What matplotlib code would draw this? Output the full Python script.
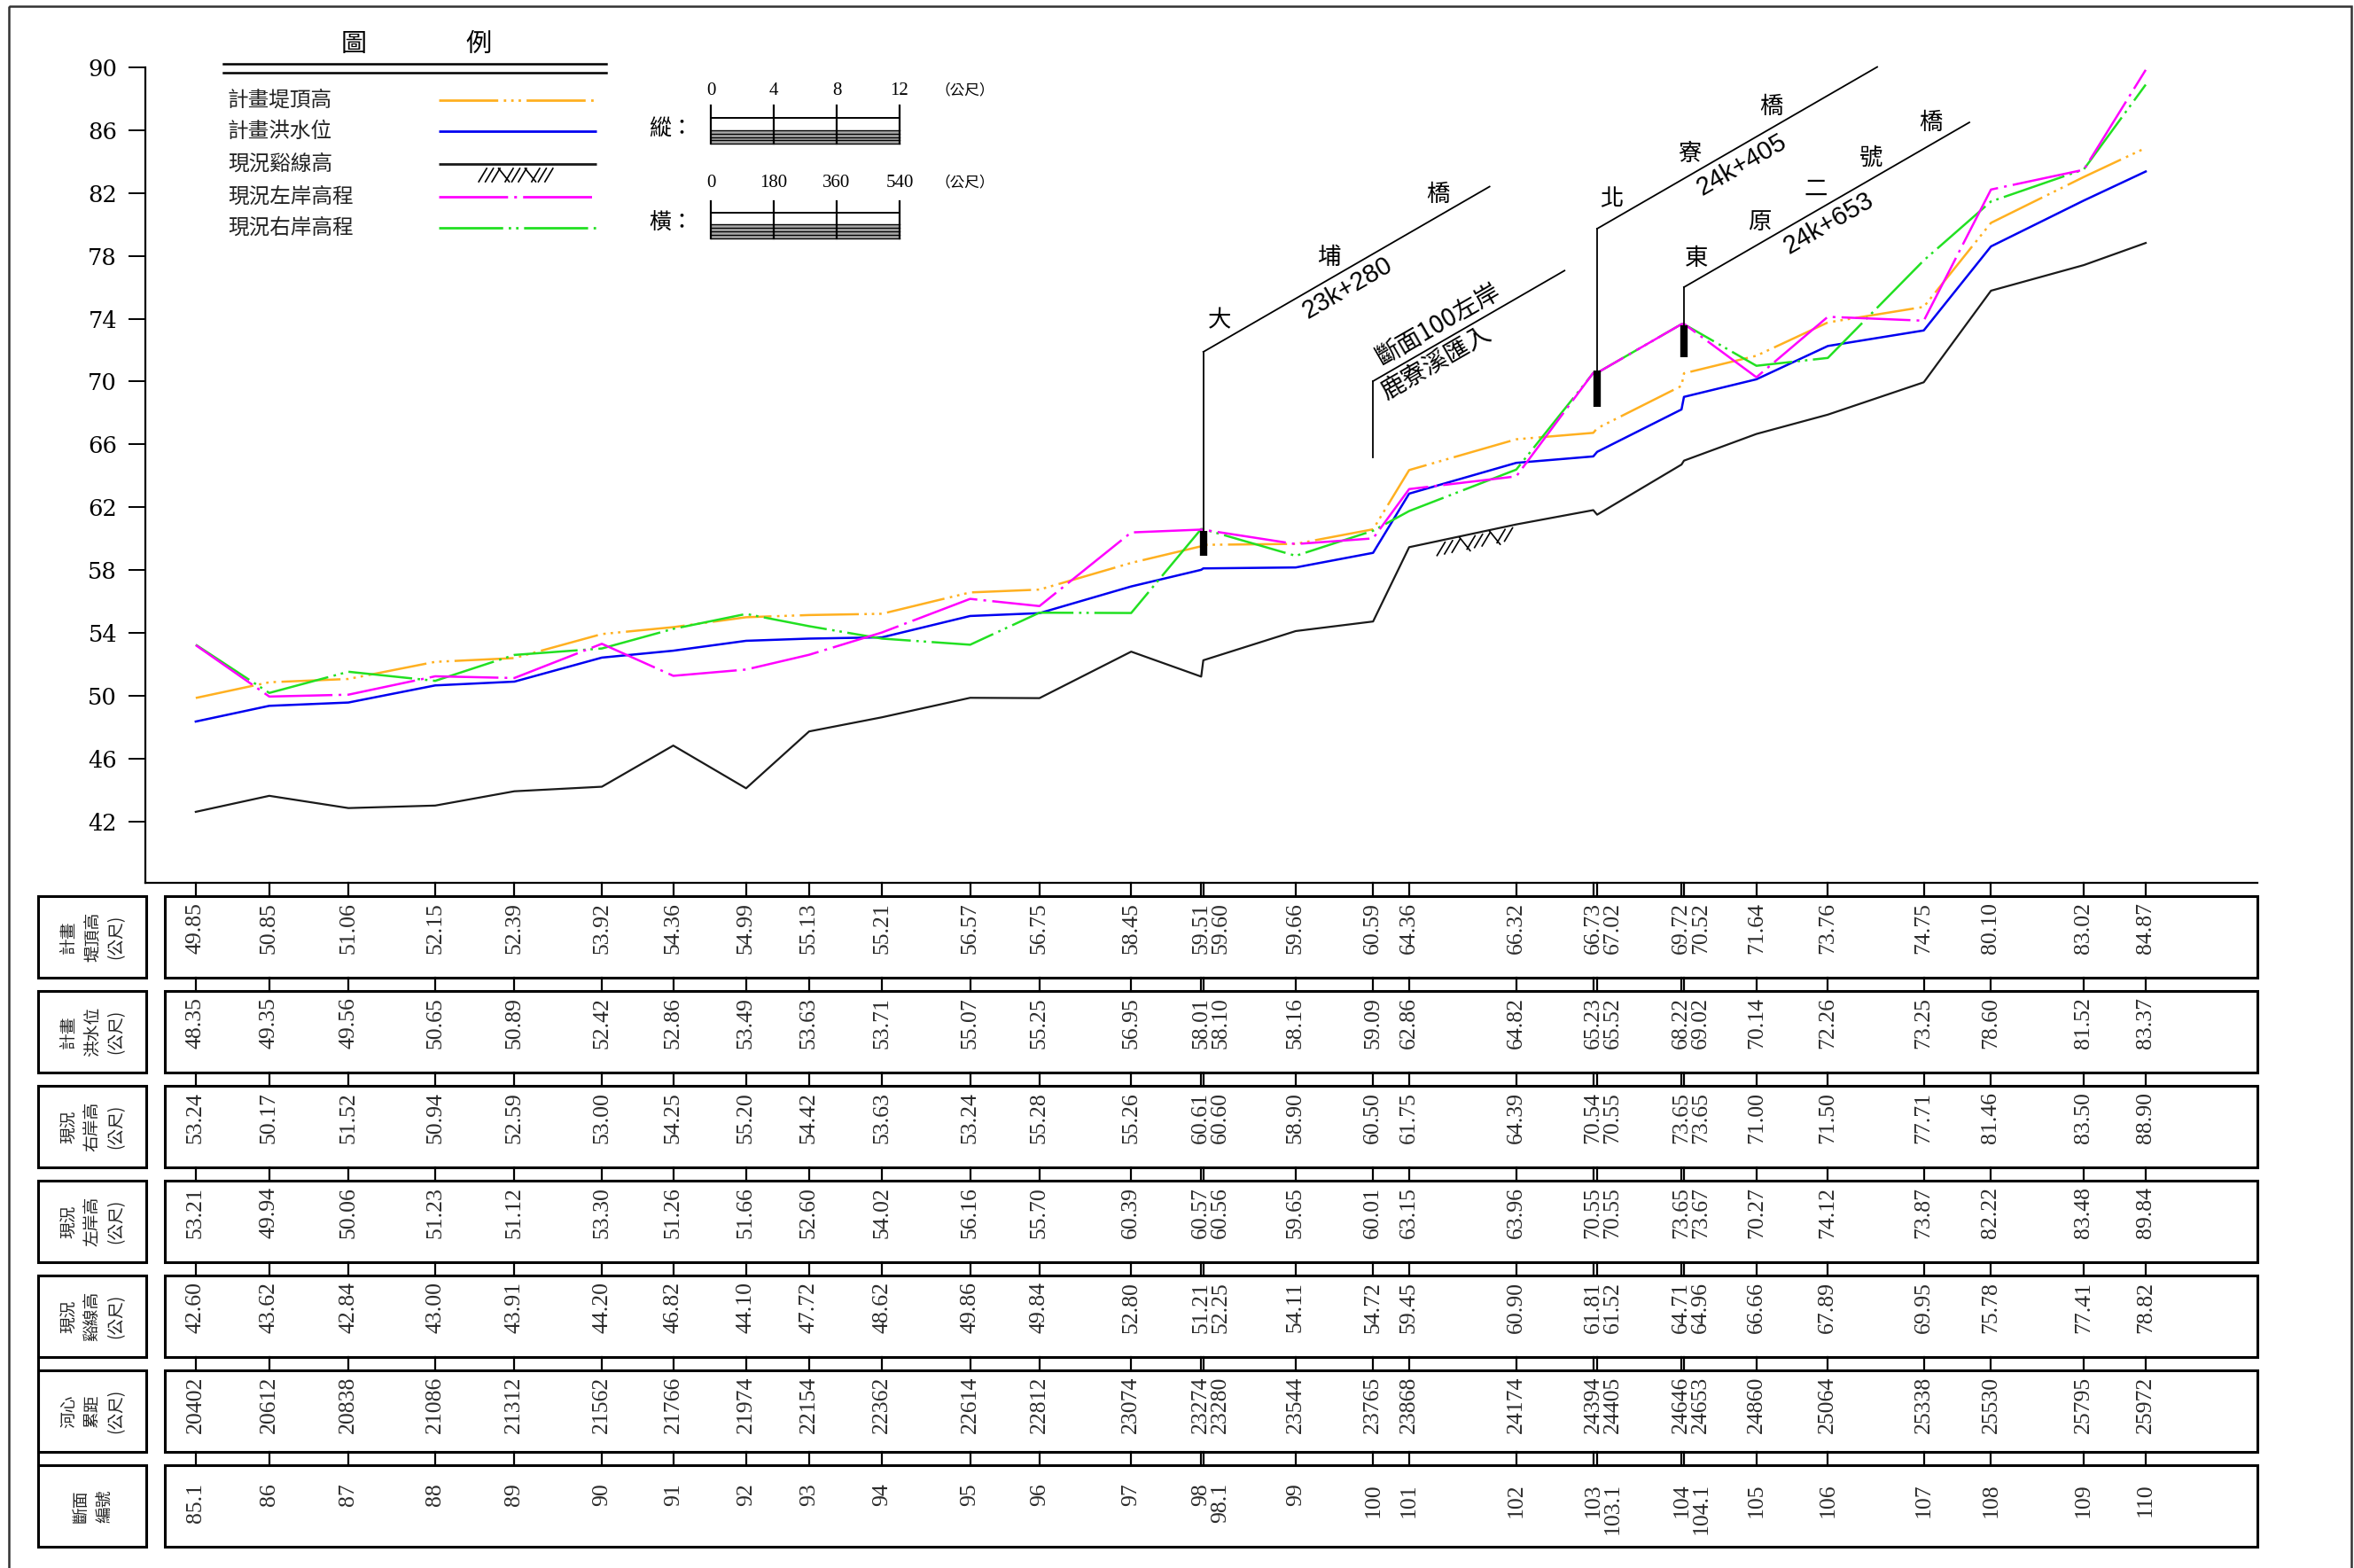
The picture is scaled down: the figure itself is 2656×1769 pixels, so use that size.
import matplotlib
matplotlib.use('Agg')
import matplotlib.pyplot as plt
from matplotlib.patches import Rectangle
from matplotlib.transforms import blended_transform_factory, offset_copy
import numpy as np

plt.rcParams['lines.scale_dashes'] = False
plt.rcParams['hatch.linewidth'] = 1.4

CJK = ['Noto Sans CJK TC', 'DejaVu Sans']
NUMF = 'Liberation Serif'

# ---------------- data ----------------
section_ids = ['85.1', '86', '87', '88', '89', '90', '91', '92', '93', '94', '95', '96', '97',
               '98', '98.1', '99', '100', '101', '102', '103', '103.1', '104', '104.1',
               '105', '106', '107', '108', '109', '110']
distance = [20402, 20612, 20838, 21086, 21312, 21562, 21766, 21974, 22154, 22362, 22614, 22812, 23074,
            23274, 23280, 23544, 23765, 23868, 24174, 24394, 24405, 24646, 24653,
            24860, 25064, 25338, 25530, 25795, 25972]
design_levee = [49.85, 50.85, 51.06, 52.15, 52.39, 53.92, 54.36, 54.99, 55.13, 55.21, 56.57, 56.75, 58.45,
                59.51, 59.60, 59.66, 60.59, 64.36, 66.32, 66.73, 67.02, 69.72, 70.52,
                71.64, 73.76, 74.75, 80.10, 83.02, 84.87]
design_flood = [48.35, 49.35, 49.56, 50.65, 50.89, 52.42, 52.86, 53.49, 53.63, 53.71, 55.07, 55.25, 56.95,
                58.01, 58.10, 58.16, 59.09, 62.86, 64.82, 65.23, 65.52, 68.22, 69.02,
                70.14, 72.26, 73.25, 78.60, 81.52, 83.37]
right_bank = [53.24, 50.17, 51.52, 50.94, 52.59, 53.00, 54.25, 55.20, 54.42, 53.63, 53.24, 55.28, 55.26,
              60.61, 60.60, 58.90, 60.50, 61.75, 64.39, 70.54, 70.55, 73.65, 73.65,
              71.00, 71.50, 77.71, 81.46, 83.50, 88.90]
left_bank = [53.21, 49.94, 50.06, 51.23, 51.12, 53.30, 51.26, 51.66, 52.60, 54.02, 56.16, 55.70, 60.39,
             60.57, 60.56, 59.65, 60.01, 63.15, 63.96, 70.55, 70.55, 73.65, 73.67,
             70.27, 74.12, 73.87, 82.22, 83.48, 89.84]
thalweg = [42.60, 43.62, 42.84, 43.00, 43.91, 44.20, 46.82, 44.10, 47.72, 48.62, 49.86, 49.84, 52.80,
           51.21, 52.25, 54.11, 54.72, 59.45, 60.90, 61.81, 61.52, 64.71, 64.96,
           66.66, 67.89, 69.95, 75.78, 77.41, 78.82]

series_names = ['計畫堤頂高', '計畫洪水位', '現況谿線高', '現況左岸高程', '現況右岸高程']
row_labels = ['計畫\n堤頂高\n(公尺)', '計畫\n洪水位\n(公尺)', '現況\n右岸高\n(公尺)',
              '現況\n左岸高\n(公尺)', '現況\n谿線高\n(公尺)', '河心\n累距\n(公尺)', '斷面\n編號']
y_ticks = list(range(42, 91, 4))
v_scale_labels = ['0', '4', '8', '12']
h_scale_labels = ['0', '180', '360', '540']

# ---------------- styles ----------------
C_LEVEE = '#FFB020'
C_FLOOD = '#0000F0'
C_BED = '#1a1a1a'
C_LEFT = '#FF00FF'
C_RIGHT = '#22E022'
LS_LEVEE = (0, (48, 4.5, 2, 4, 2, 4, 2, 4.5))
LS_LEFT = (0, (56, 5, 2.2, 5))
LS_RIGHT = (0, (52, 4.5, 2, 4, 2, 4.5))

W, H = 2656, 1769
fig = plt.figure(figsize=(W / 100, H / 100), dpi=100)

AX_L, AX_R, AX_T, AX_B = 164, 2547, 76, 996
ax = fig.add_axes([AX_L / W, 1 - AX_B / H, (AX_R - AX_L) / W, (AX_B - AX_T) / H])
ax.patch.set_visible(False)
ax.set_xlim(20258, 26291)
ax.set_ylim(38.08, 90)
for s in ['top', 'right']:
    ax.spines[s].set_visible(False)
for s in ['left', 'bottom']:
    ax.spines[s].set_linewidth(1.6)
ax.set_xticks([])
ax.set_yticks(y_ticks)
ax.tick_params(axis='y', length=14, width=1.4, pad=9, labelsize=18.5)
for lab in ax.get_yticklabels():
    lab.set_family('DejaVu Serif')

ax.plot(distance, thalweg, color=C_BED, lw=1.6, zorder=3)
ax.plot(distance, design_flood, color=C_FLOOD, lw=1.8, zorder=4)
ax.plot(distance, design_levee, color=C_LEVEE, lw=1.8, ls=LS_LEVEE, zorder=5)
ax.plot(distance, right_bank, color=C_RIGHT, lw=1.8, ls=LS_RIGHT, zorder=6)
ax.plot(distance, left_bank, color=C_LEFT, lw=1.8, ls=LS_LEFT, zorder=7)

# overlay in pixel coords (y from top)
ov = fig.add_axes([0, 0, 1, 1])
ov.set_xlim(0, W)
ov.set_ylim(H, 0)
ov.axis('off')
ov.patch.set_visible(False)


def to_px(d, v):
    x, y = ax.transData.transform((d, v))
    return x, H - y


# outer frame
ov.add_patch(Rectangle((10, 7), W - 13, H + 40, fill=False, lw=1.8, ec='#333333', clip_on=False))


def ground_hatch(x0, y0, x1, y1, n):
    for i, t in enumerate(np.linspace(0.05, 0.95, n)):
        xt = x0 + (x1 - x0) * t
        yt = y0 + (y1 - y0) * t + 3
        if i % 4 == 3:
            ov.plot([xt - 9, xt + 3], [yt, yt + 15], color='k', lw=1.2)
        else:
            ov.plot([xt, xt - 9], [yt, yt + 15], color='k', lw=1.2)


# ---------------- legend ----------------
ov.text(399, 50, '圖', fontsize=21, family=CJK, ha='center', va='center')
ov.text(540, 50, '例', fontsize=21, family=CJK, ha='center', va='center')
ov.plot([252, 684], [72, 72], color='k', lw=1.8)
ov.plot([252, 684], [82, 82], color='k', lw=1.8)
leg_y = [113, 148, 185, 222, 257]
leg_style = [(C_LEVEE, LS_LEVEE), (C_FLOOD, '-'), (C_BED, '-'), (C_LEFT, LS_LEFT), (C_RIGHT, LS_RIGHT)]
for name, y, (c, ls) in zip(series_names, leg_y, leg_style):
    ov.text(257, y, name, fontsize=17, family=CJK, ha='left', va='center', color='#222222')
    ov.plot([495, 673], [y, y], color=c, lw=2.0, ls=ls, solid_capstyle='butt', dash_capstyle='butt')
ground_hatch(545, 187, 628, 187, 11)

# ---------------- scale bars ----------------
sx = [802, 873, 944, 1015]


def scale_bar(labels, y_lab, y_top, y_line, y_band, y_bot, name):
    for x, l in zip(sx, labels):
        ov.text(x, y_lab, l, fontsize=15, family=NUMF, ha='center', va='center')
        ov.plot([x, x], [y_top, y_bot], color='k', lw=1.6)
    ov.text(1089, y_lab, '（公尺）', fontsize=12, family=CJK, ha='center', va='center')
    ov.text(757, (y_line + y_bot) / 2 - 3, name, fontsize=18, family=CJK, ha='center', va='center')
    ov.add_patch(Rectangle((sx[0], y_band), sx[-1] - sx[0], y_bot - y_band, fc='#a8a8a8', ec='none'))
    ov.plot([sx[0], sx[-1]], [y_line, y_line], color='k', lw=1.4)
    for yy in np.linspace(y_band, y_bot, 5):
        ov.plot([sx[0], sx[-1]], [yy, yy], color='k', lw=1.0)


scale_bar(v_scale_labels, 102, 119, 133, 147, 162, '縱：')
scale_bar(h_scale_labels, 206, 227, 240, 253, 269, '橫：')

# ---------------- bridge annotations ----------------
ANG = np.deg2rad(30)
U = np.array([np.cos(ANG), -np.sin(ANG)])
N = np.array([-np.sin(ANG), -np.cos(ANG)])


def annot(d, lo, hi, top, run, chars, char_u, km, km_u=177, km_n=-19):
    x, ybot = to_px(d, hi)
    if lo is not None:
        ax.plot([d, d], [lo, hi], color='k', lw=6, solid_capstyle='butt', zorder=9)
    ov.plot([x, x], [ybot, top], color='k', lw=1.3)
    corner = np.array([x, top])
    end = corner + U * run / np.cos(ANG)
    ov.plot([corner[0], end[0]], [corner[1], end[1]], color='k', lw=1.3)
    for ch, u in zip(chars, char_u):
        p = corner + U * u + N * 21
        ov.text(p[0], p[1], ch, fontsize=19, family=CJK, ha='center', va='center')
    p = corner + U * km_u + N * km_n
    ov.text(p[0], p[1], km, fontsize=21, family='Liberation Sans', rotation=30,
            ha='center', va='center', rotation_mode='anchor')


annot(23280, 58.9, 60.5, 397, 323, '大埔橋', [33, 176, 318], '23k+280')
annot(24405, 68.4, 70.7, 258, 316, '北寮橋', [31, 133, 239], '24k+405')
annot(24653, 71.55, 73.6, 324, 322, '東原二號橋', [28, 110, 184, 256, 334], '24k+653')

# tributary note at section 100
x100, yb100 = to_px(23765, 65.17)
c100 = np.array([x100, 430])
e100 = c100 + U * 216 / np.cos(ANG)
ov.plot([x100, x100], [yb100, 430], color='k', lw=1.3)
ov.plot([c100[0], e100[0]], [c100[1], e100[1]], color='k', lw=1.3)
p = c100 + U * 96 + N * 19
ov.text(p[0], p[1], '斷面100左岸', fontsize=20, family=CJK, rotation=30, ha='center', va='center',
        rotation_mode='anchor')
p = c100 + U * 72 + N * (-18)
ov.text(p[0], p[1], '鹿寮溪匯入', fontsize=20, family=CJK, rotation=30, ha='center', va='center',
        rotation_mode='anchor')

# ground hatch in profile (between sections 101 and 102)
xa, ya = to_px(distance[17], thalweg[17])
xb, yb = to_px(distance[18], thalweg[18])
ground_hatch(xa + (xb - xa) * 0.3, ya + (yb - ya) * 0.3, xb, yb, 10)

# ---------------- table ----------------
trans_tab = blended_transform_factory(ax.transData, ov.transData)
ROW_T0, ROW_P, ROW_H = 1011, 107, 92
LAB_X0, LAB_X1 = 43, 165
BOX_X0, BOX_X1 = 186, 2547

# groups of close stations (double sections)
groups = []
for i, d in enumerate(distance):
    if groups and d - distance[groups[-1][-1]] < 20:
        groups[-1].append(i)
    else:
        groups.append([i])

rows = [
    [f'{v:.2f}' for v in design_levee],
    [f'{v:.2f}' for v in design_flood],
    [f'{v:.2f}' for v in right_bank],
    [f'{v:.2f}' for v in left_bank],
    [f'{v:.2f}' for v in thalweg],
    [f'{v:d}' for v in distance],
    section_ids,
]

for k, (lab, vals) in enumerate(zip(row_labels, rows)):
    top = ROW_T0 + k * ROW_P
    ov.add_patch(Rectangle((LAB_X0, top), LAB_X1 - LAB_X0, ROW_H, fill=False, lw=2.2))
    ov.add_patch(Rectangle((BOX_X0, top), BOX_X1 - BOX_X0, ROW_H, fill=False, lw=2.2))
    ov.text((LAB_X0 + LAB_X1) / 2, top + ROW_H / 2, lab, rotation=90, fontsize=13.5, family=CJK,
            ha='center', va='center', multialignment='center', linespacing=1.35, color='#222222')
    y_above = AX_B if k == 0 else top - (ROW_P - ROW_H)
    for d in distance:
        ov.plot([d, d], [y_above, top], transform=trans_tab, color='k', lw=1.6)
    off = 20 if k == 6 else 7
    for g in groups:
        txt = '\n'.join(vals[i] for i in g)
        tr = trans_tab if len(g) == 1 else offset_copy(trans_tab, fig=fig, x=11, y=0, units='dots')
        ov.text(distance[g[0]], top + off, txt, transform=tr, rotation=90, fontsize=18.5, family=NUMF,
                ha='center', va='top', multialignment='right', linespacing=1.0, color='#2a2a2a')

# connector on left of label boxes (rows 5-7)
ov.plot([LAB_X0, LAB_X0], [ROW_T0 + 4 * ROW_P + ROW_H, ROW_T0 + 6 * ROW_P], color='k', lw=2.2)

fig.savefig('out.png', dpi=100)
